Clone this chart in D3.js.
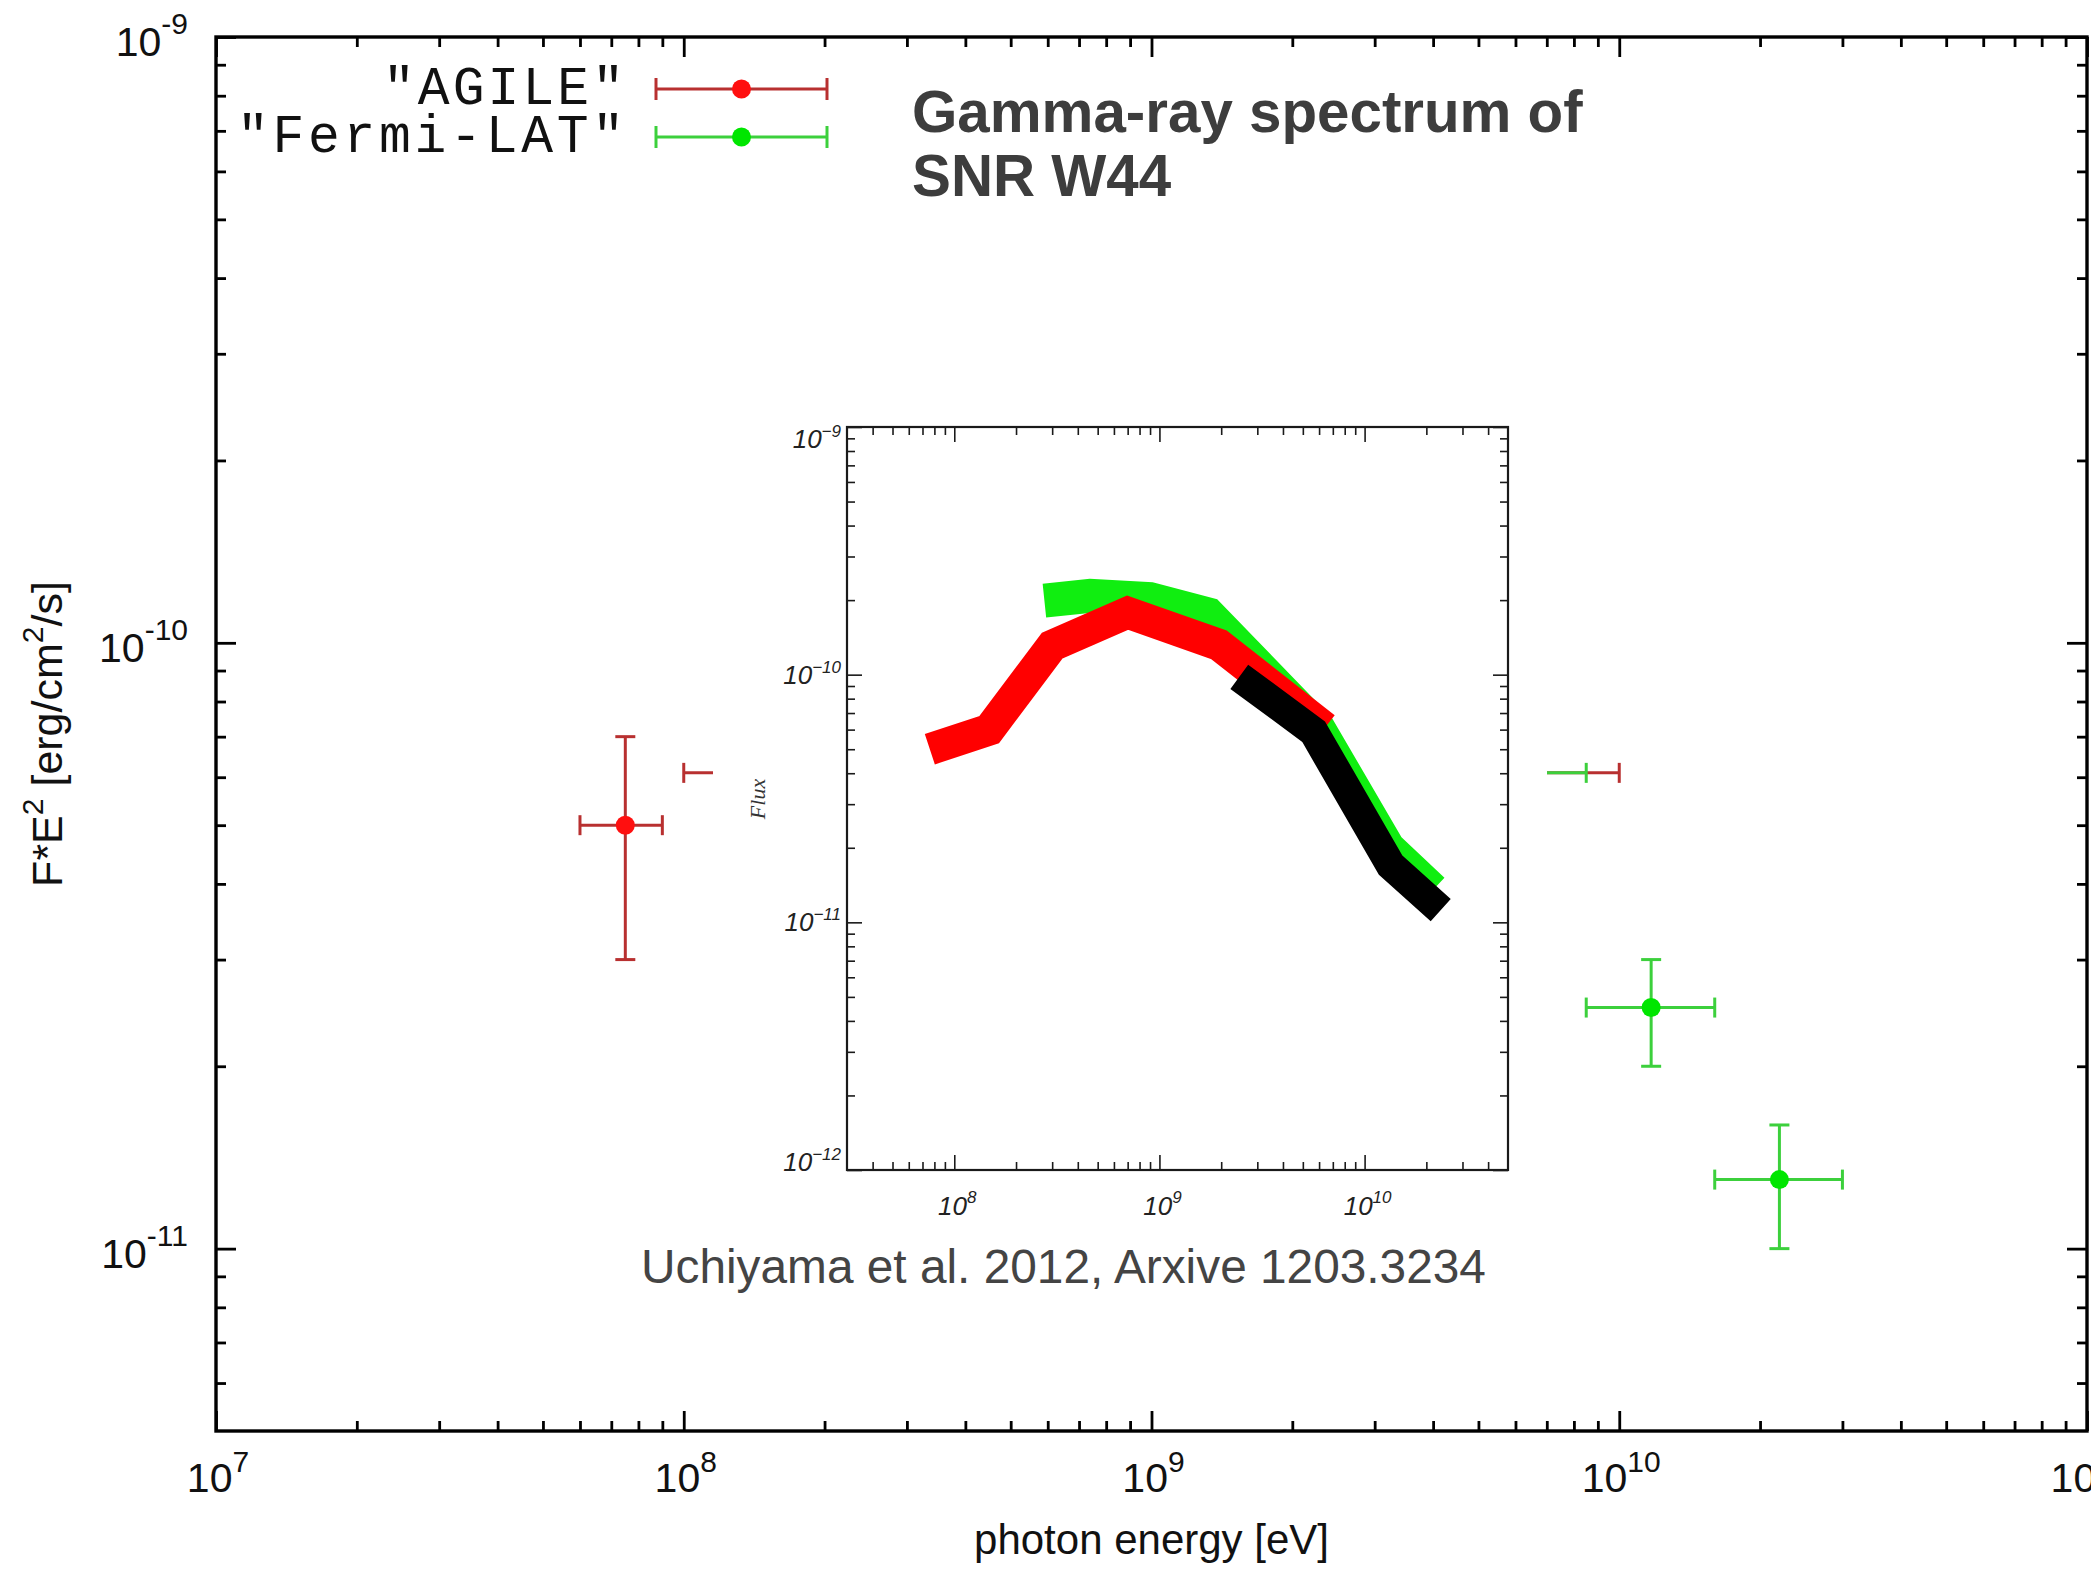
<!DOCTYPE html>
<html><head><meta charset="utf-8">
<script src="https://cdn.jsdelivr.net/npm/d3@7"></script>
<style>body{margin:0;background:#fff} svg{display:block}</style>
</head><body>
<svg id="chart" width="2091" height="1573"></svg>
<script>
// ---------------- data ----------------
// main plot: AGILE points (energy eV, flux erg/cm2/s)
const agileE   = [7.5e7, 1.0e9];
const agileElo = [6.0e7, 1.0e8];
const agileEhi = [9.0e7, 1.0e10];
const agileF   = [5.0e-11, 6.1e-11];
const agileFlo = [3.0e-11, 5.5e-11];
const agileFhi = [7.0e-11, 6.7e-11];
// main plot: Fermi-LAT points
const fermiE   = [6.0e9, 1.17e10, 2.2e10];
const fermiElo = [4.2e9, 8.5e9, 1.6e10];
const fermiEhi = [8.5e9, 1.6e10, 3.0e10];
const fermiF   = [6.1e-11, 2.5e-11, 1.3e-11];
const fermiFlo = [5.5e-11, 2.0e-11, 1.0e-11];
const fermiFhi = [6.7e-11, 3.0e-11, 1.6e-11];
// tick label exponents
const xTickExp = [7, 8, 9, 10, 11];
const yTickExp = [-9, -10, -11];
// inset (Uchiyama et al. 2012) bands
const insetRedE   = [7.6e7, 1.48e8, 3.0e8, 7.0e8, 1.95e9, 6.4e9];
const insetRedF   = [5.0e-11, 6.0e-11, 1.31e-10, 1.78e-10, 1.32e-10, 6.1e-11];
const insetGreenE = [2.75e8, 4.6e8, 9.0e8, 1.73e9, 5.93e9, 1.30e10, 2.15e10];
const insetGreenF = [1.99e-10, 2.08e-10, 2.02e-10, 1.75e-10, 6.1e-11, 2.0e-11, 1.35e-11];
const insetBlackE = [2.45e9, 5.64e9, 1.34e10, 2.35e10];
const insetBlackF = [9.8e-11, 5.89e-11, 1.70e-11, 1.12e-11];
const insetXTickExp = [8, 9, 10];
const insetYTickExp = [-9, -10, -11, -12];
// texts
const titleLines = ["Gamma-ray spectrum of", "SNR W44"];
const legendLabels = ['"AGILE"', '"Fermi-LAT"'];
const citation = "Uchiyama et al. 2012, Arxive 1203.3234";

// ---------------- layout ----------------
const svg = d3.select("#chart");
const M = {left:216, right:2087, top:37, bottom:1431};
const x = d3.scaleLog().domain([1e7, 1e11]).range([M.left, M.right]);
const y = d3.scaleLog().domain([5e-12, 1e-9]).range([M.bottom, M.top]);

const RED_BAR = "#b83030", RED_DOT = "#ff0f0f";
const GRN_BAR = "#3cd03c", GRN_DOT = "#00e600";
const NARROW = "'Liberation Sans Narrow','Arial Narrow','Liberation Sans',Arial,sans-serif";
const SANS = "'Liberation Sans',Arial,sans-serif";

function minors(lo, hi) {
  const out = [];
  for (let d = Math.floor(Math.log10(lo)) - 1; d <= Math.ceil(Math.log10(hi)); d++)
    for (let m = 2; m <= 9; m++) {
      const v = m * Math.pow(10, d);
      if (v > lo * 1.0001 && v < hi * 0.9999) out.push(v);
    }
  return out;
}
function pow10(e){ return Math.pow(10, e); }

function drawAxes(g, xs, ys, box, xMaj, yMaj, lenMaj, lenMin, sw, color) {
  const xd = xs.domain(), yd = ys.domain();
  const xMin = minors(xd[0], xd[1]), yMin = minors(yd[0], yd[1]);
  const specs = [
    [d3.axisBottom, xs, `translate(0,${box.bottom})`],
    [d3.axisTop, xs, `translate(0,${box.top})`],
    [d3.axisLeft, ys, `translate(${box.left},0)`],
    [d3.axisRight, ys, `translate(${box.right},0)`]
  ];
  specs.forEach(([fn, sc, tr]) => {
    const isX = sc === xs;
    [[isX ? xMaj : yMaj, lenMaj], [isX ? xMin : yMin, lenMin]].forEach(([vals, len]) => {
      const a = g.append("g").attr("transform", tr)
        .call(fn(sc).tickValues(vals).tickSize(-len).tickFormat(""));
      a.select(".domain").remove();
      a.selectAll("line").attr("stroke", color).attr("stroke-width", sw);
    });
  });
  g.append("rect").attr("x", box.left).attr("y", box.top)
    .attr("width", box.right - box.left).attr("height", box.bottom - box.top)
    .attr("fill", "none").attr("stroke", color).attr("stroke-width", sw + 0.6);
}

// ---------------- main axes ----------------
const gMain = svg.append("g");
drawAxes(gMain, x, y, M, xTickExp.map(pow10), yTickExp.map(pow10), 20, 10, 2.8, "#000");

// x tick labels
xTickExp.forEach(e => {
  const t = gMain.append("text").attr("x", x(pow10(e)) + 2).attr("y", M.bottom + 61)
    .attr("text-anchor", "middle").attr("font-family", NARROW).attr("fill", "#111");
  t.append("tspan").attr("font-size", 41).text("10");
  t.append("tspan").attr("font-size", 30).attr("dy", -20).text(e);
});
// y tick labels
yTickExp.forEach(e => {
  const t = gMain.append("text").attr("x", 188).attr("y", y(pow10(e)) + 19)
    .attr("text-anchor", "end").attr("font-family", NARROW).attr("fill", "#111");
  t.append("tspan").attr("font-size", 41).text("10");
  t.append("tspan").attr("font-size", 30).attr("dy", -22).text("-" + Math.abs(e));
});
// axis titles
gMain.append("text").attr("x", (M.left + M.right) / 2).attr("y", 1554)
  .attr("text-anchor", "middle").attr("font-family", SANS).attr("font-size", 42)
  .attr("fill", "#111").text("photon energy [eV]");
const yt = gMain.append("text").attr("transform", `translate(62,${(M.top + M.bottom) / 2}) rotate(-90)`)
  .attr("text-anchor", "middle").attr("font-family", SANS).attr("font-size", 43).attr("fill", "#111");
yt.append("tspan").text("F*E");
yt.append("tspan").attr("font-size", 30).attr("dy", -19).text("2");
yt.append("tspan").attr("dy", 19).text(" [erg/cm");
yt.append("tspan").attr("font-size", 30).attr("dy", -19).text("2");
yt.append("tspan").attr("dy", 19).text("/s]");

// ---------------- error bars ----------------
function errorBars(E, Elo, Ehi, F, Flo, Fhi, barColor, dotColor) {
  const g = svg.append("g").attr("stroke", barColor).attr("stroke-width", 3).attr("fill", "none");
  const cap = 10;
  E.forEach((e, i) => {
    const cx = x(e), cy = y(F[i]);
    const x0 = x(Elo[i]), x1 = x(Ehi[i]), y0 = y(Flo[i]), y1 = y(Fhi[i]);
    g.append("line").attr("x1", x0).attr("x2", x1).attr("y1", cy).attr("y2", cy);
    g.append("line").attr("x1", cx).attr("x2", cx).attr("y1", y0).attr("y2", y1);
    [x0, x1].forEach(xx => g.append("line").attr("x1", xx).attr("x2", xx).attr("y1", cy - cap).attr("y2", cy + cap));
    [y0, y1].forEach(yy => g.append("line").attr("x1", cx - cap).attr("x2", cx + cap).attr("y1", yy).attr("y2", yy));
    svg.append("circle").attr("cx", cx).attr("cy", cy).attr("r", 9.5).attr("fill", dotColor);
  });
}
errorBars(agileE, agileElo, agileEhi, agileF, agileFlo, agileFhi, RED_BAR, RED_DOT);
errorBars(fermiE, fermiElo, fermiEhi, fermiF, fermiFlo, fermiFhi, GRN_BAR, GRN_DOT);

// ---------------- inset (pasted figure) ----------------
const IB = {left:847, right:1508, top:427, bottom:1170};
const gIn = svg.append("g");
gIn.append("rect").attr("x", 713).attr("y", 395).attr("width", 1547 - 713).attr("height", 1236 - 395).attr("fill", "#fff");
const ix = d3.scaleLog().domain([3e7, 5e10]).range([IB.left, IB.right]);
const iy = d3.scaleLog().domain([1e-12, 1e-9]).range([IB.bottom, IB.top]);

const line = d3.line().x(d => ix(d[0])).y(d => iy(d[1]));
[[insetGreenE, insetGreenF, "#10ee10", 34],
 [insetRedE, insetRedF, "#ff0000", 32],
 [insetBlackE, insetBlackF, "#000000", 30]].forEach(([E, F, col, w]) => {
  gIn.append("path").attr("d", line(E.map((e, i) => [e, F[i]])))
    .attr("fill", "none").attr("stroke", col).attr("stroke-width", w)
    .attr("stroke-linejoin", "miter").attr("stroke-linecap", "butt");
});
drawAxes(gIn, ix, iy, IB, insetXTickExp.map(pow10), insetYTickExp.map(pow10), 15, 8, 1.6, "#1a1a1a");

insetXTickExp.forEach(e => {
  const t = gIn.append("text").attr("x", ix(pow10(e)) + 3).attr("y", IB.bottom + 45)
    .attr("text-anchor", "middle").attr("font-family", SANS).attr("font-style", "italic").attr("fill", "#222");
  t.append("tspan").attr("font-size", 26).text("10");
  t.append("tspan").attr("font-size", 17).attr("dy", -12).text(e);
});
insetYTickExp.forEach(e => {
  const cy = Math.max(IB.top + 12, Math.min(IB.bottom - 8, iy(pow10(e))));
  const t = gIn.append("text").attr("x", 841).attr("y", cy + 9)
    .attr("text-anchor", "end").attr("font-family", SANS).attr("font-style", "italic").attr("fill", "#222");
  t.append("tspan").attr("font-size", 26).text("10");
  t.append("tspan").attr("font-size", 17).attr("dy", -11).text("\u2212" + Math.abs(e));
});
gIn.append("text").attr("transform", "translate(765,799) rotate(-90)")
  .attr("text-anchor", "middle").attr("font-family", "'Liberation Serif','DejaVu Serif',serif")
  .attr("font-style", "italic").attr("font-size", 22).attr("fill", "#333").text("Flux");

// citation
svg.append("text").attr("x", 641).attr("y", 1283).attr("font-family", SANS)
  .attr("font-size", 47.8).attr("fill", "#444").text(citation);

// ---------------- legend ----------------
const legendColors = [[RED_BAR, RED_DOT], [GRN_BAR, GRN_DOT]];
const legY = [89, 137];
const legWidth = [241, 387];
legendLabels.forEach((lab, i) => {
  const ly = legY[i];
  svg.append("text").attr("x", 624).attr("y", ly + 15).attr("text-anchor", "end")
    .attr("font-family", "'Liberation Mono','Courier New',monospace").attr("font-size", 53)
    .attr("textLength", legWidth[i]).attr("lengthAdjust", "spacing")
    .attr("fill", "#111").text(lab);
  const g = svg.append("g").attr("stroke", legendColors[i][0]).attr("stroke-width", 3);
  g.append("line").attr("x1", 656).attr("x2", 827).attr("y1", ly).attr("y2", ly);
  [656, 827].forEach(xx => g.append("line").attr("x1", xx).attr("x2", xx).attr("y1", ly - 11).attr("y2", ly + 11));
  svg.append("circle").attr("cx", 741.5).attr("cy", ly).attr("r", 9.5).attr("fill", legendColors[i][1]);
});

// ---------------- title ----------------
titleLines.forEach((s, i) => {
  svg.append("text").attr("x", 912).attr("y", 132 + i * 64).attr("font-family", SANS)
    .attr("font-weight", "bold").attr("font-size", 58.3).attr("fill", "#3d3d3d").text(s);
});
</script>
</body></html>
